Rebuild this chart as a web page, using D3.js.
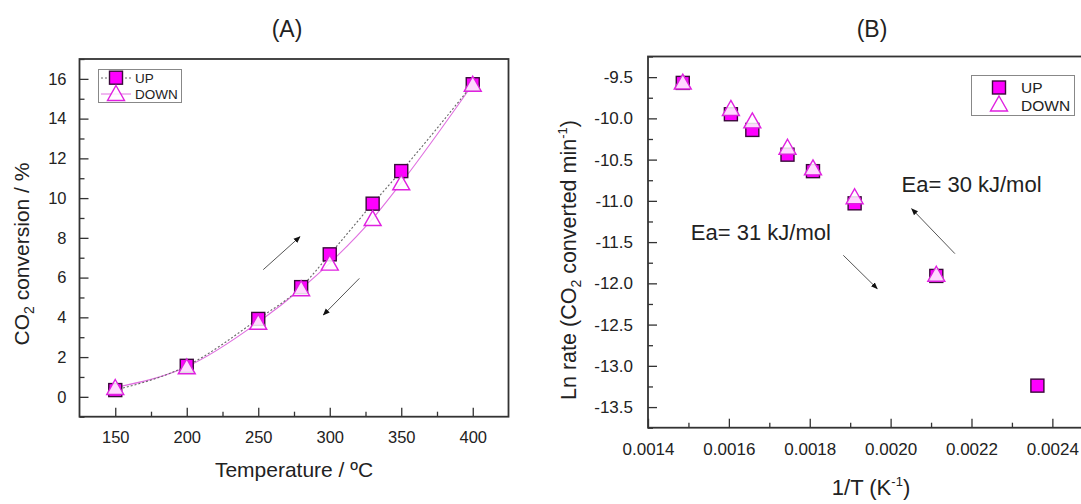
<!DOCTYPE html>
<html>
<head>
<meta charset="utf-8">
<script src="https://cdn.jsdelivr.net/npm/d3@7"></script>
<style>
  body { margin: 0; background: #fff; }
  svg text { font-family: "Liberation Sans", Arial, sans-serif; fill: #222; }
</style>
</head>
<body>
<div class="chart"></div>
<script>
// panel A : conversion vs temperature
var tempC = [150, 200, 250, 280, 300, 330, 350, 400];
var convUp = [0.34, 1.56, 3.92, 5.52, 7.17, 9.72, 11.36, 15.73];
var convDown = [0.47, 1.51, 3.75, 5.44, 6.73, 8.97, 10.77, 15.73];
var ticksA_x = [150, 200, 250, 300, 350, 400];
var ticksA_y = [0, 2, 4, 6, 8, 10, 12, 14, 16];

// panel B : arrhenius plot
var invT = [0.001486, 0.001605, 0.001658, 0.001745, 0.001808, 0.001911, 0.002113, 0.002363];
var lnUp = [-9.57, -9.95, -10.14, -10.44, -10.64, -11.03, -11.91, -13.24];
var lnDown = [-9.56, -9.88, -10.03, -10.35, -10.60, -10.95, -11.89, null];
var ticksB_x = [0.0014, 0.0016, 0.0018, 0.0020, 0.0022, 0.0024];
var ticksB_y = [-9.5, -10.0, -10.5, -11.0, -11.5, -12.0, -12.5, -13.0, -13.5];

// arrows + labels, in data units
var arrowsA = [[253.5, 6.4, 279.2, 8.06], [320.7, 5.96, 295.5, 4.12]];
var arrowsB = [[0.002159, -11.64, 0.002052, -11.095], [0.001883, -11.66, 0.001967, -12.065]];
var notesB = [["Ea= 30 kJ/mol", 0.002027, -10.894], ["Ea= 31 kJ/mol", 0.001506, -11.48]];

var width = 1081, height = 504;
var magenta = "#ff00ff", triColor = "#e020e0";

var svg = d3.select(".chart").append("svg")
    .attr("width", width)
    .attr("height", height);

svg.append("defs").append("marker")
    .attr("id", "head")
    .attr("viewBox", "0 0 10 10")
    .attr("refX", 9).attr("refY", 5)
    .attr("markerWidth", 7).attr("markerHeight", 7)
    .attr("markerUnits", "userSpaceOnUse")
    .attr("orient", "auto")
    .append("path")
    .attr("d", "M0,1L10,5L0,9z")
    .attr("fill", "#111");

function drawAxes(g, x, y, xt, xminor, yt, yminor, xfmt, yfmt, ypad, fs) {
    var x0 = x.range()[0], x1 = x.range()[1];
    var y0 = y.range()[0], y1 = y.range()[1];

    g.append("g").attr("transform", "translate(0," + y0 + ")")
        .call(d3.axisBottom(x).tickValues(xminor).tickSize(-5).tickFormat(""));
    g.append("g").attr("class", "xa").attr("transform", "translate(0," + y0 + ")")
        .call(d3.axisBottom(x).tickValues(xt).tickSize(-9).tickPadding(15).tickFormat(xfmt));
    g.append("g").attr("transform", "translate(" + x0 + ",0)")
        .call(d3.axisLeft(y).tickValues(yminor).tickSize(-5).tickFormat(""));
    g.append("g").attr("class", "ya").attr("transform", "translate(" + x0 + ",0)")
        .call(d3.axisLeft(y).tickValues(yt).tickSize(-9).tickPadding(ypad).tickFormat(yfmt));

    g.selectAll(".domain").remove();
    g.selectAll(".tick line").attr("stroke", "#333").attr("stroke-width", 1.3);
    g.selectAll(".tick text").style("font-size", fs).attr("fill", "#222");

    g.append("rect")
        .attr("x", x0).attr("y", y1)
        .attr("width", x1 - x0).attr("height", y0 - y1)
        .attr("fill", "none").attr("stroke", "#333").attr("stroke-width", 1.8);
}

function squares(g, pts) {
    g.selectAll(null).data(pts).enter().append("rect")
        .attr("x", function (d) { return d[0] - 6.5; })
        .attr("y", function (d) { return d[1] - 6.5; })
        .attr("width", 13).attr("height", 13)
        .attr("fill", magenta).attr("stroke", "#3a0a3a").attr("stroke-width", 1.4);
}

function triangles(g, pts) {
    g.selectAll(null).data(pts).enter().append("path")
        .attr("d", function (d) {
            return "M" + d[0] + "," + (d[1] - 8) + "L" + (d[0] + 8.5) + "," + (d[1] + 7) +
                "L" + (d[0] - 8.5) + "," + (d[1] + 7) + "Z";
        })
        .attr("fill", "#fff").attr("fill-opacity", 0.85)
        .attr("stroke", triColor).attr("stroke-width", 1.4);
}

function arrows(g, list, x, y) {
    g.selectAll(null).data(list).enter().append("line")
        .attr("x1", function (d) { return x(d[0]); })
        .attr("y1", function (d) { return y(d[1]); })
        .attr("x2", function (d) { return x(d[2]); })
        .attr("y2", function (d) { return y(d[3]); })
        .attr("stroke", "#555").attr("stroke-width", 1)
        .attr("marker-end", "url(#head)");
}

// ---------- (A) ----------
var xA = d3.scaleLinear().domain([125, 425]).range([79.5, 508.5]);
var yA = d3.scaleLinear().domain([-1, 17]).range([416.7, 59]);
var gA = svg.append("g");

drawAxes(gA, xA, yA, ticksA_x, [175, 225, 275, 325, 375],
    ticksA_y, [-1, 1, 3, 5, 7, 9, 11, 13, 15, 17],
    d3.format("d"), d3.format("d"), 13, "16.5px");

var lineA = d3.line()
    .x(function (d) { return xA(d[0]); })
    .y(function (d) { return yA(d[1]); })
    .curve(d3.curveMonotoneX);

var upA = tempC.map(function (t, i) { return [t, convUp[i]]; });
var downA = tempC.map(function (t, i) { return [t, convDown[i]]; });

gA.append("path").attr("d", lineA(downA))
    .attr("fill", "none").attr("stroke", "#e070e0").attr("stroke-width", 1.1);
gA.append("path").attr("d", lineA(upA))
    .attr("fill", "none").attr("stroke", "#666").attr("stroke-width", 1.1)
    .attr("stroke-dasharray", "2,2");

squares(gA, upA.map(function (d) { return [xA(d[0]), yA(d[1])]; }));
triangles(gA, downA.map(function (d) { return [xA(d[0]), yA(d[1])]; }));
arrows(gA, arrowsA, xA, yA);

// legend A
var legA = gA.append("g");
legA.append("rect").attr("x", 98.5).attr("y", 69.5).attr("width", 83).attr("height", 33)
    .attr("fill", "#fff").attr("stroke", "#888").attr("stroke-width", 1);
legA.append("line").attr("x1", 101).attr("x2", 131).attr("y1", 78).attr("y2", 78)
    .attr("stroke", "#666").attr("stroke-dasharray", "2,2");
legA.append("line").attr("x1", 101).attr("x2", 131).attr("y1", 94).attr("y2", 94)
    .attr("stroke", "#e070e0");
squares(legA, [[116, 77.7]]);
triangles(legA, [[116, 93.5]]);
legA.append("text").attr("x", 135).attr("y", 82.5).text("UP").style("font-size", "13.5px");
legA.append("text").attr("x", 135).attr("y", 99).text("DOWN").style("font-size", "13.5px");

svg.append("text").attr("x", 287).attr("y", 37).attr("text-anchor", "middle")
    .style("font-size", "23px").text("(A)");
svg.append("text").attr("x", 294).attr("y", 477).attr("text-anchor", "middle")
    .style("font-size", "21px").text("Temperature / ºC");
var ylabA = svg.append("text")
    .attr("transform", "translate(29,254) rotate(-90)")
    .attr("text-anchor", "middle").style("font-size", "21px");
ylabA.append("tspan").text("CO");
ylabA.append("tspan").attr("dy", 5).style("font-size", "14px").text("2");
ylabA.append("tspan").attr("dy", -5).text(" conversion / %");

// ---------- (B) ----------
var xB = d3.scaleLinear().domain([0.0014, 0.0025]).range([648, 1092.8]);
var yB = d3.scaleLinear().domain([-13.75, -9.25]).range([427.7, 56.5]);
var gB = svg.append("g");

drawAxes(gB, xB, yB, ticksB_x, [0.0015, 0.0017, 0.0019, 0.0021, 0.0023, 0.0025],
    ticksB_y, [-9.25, -9.75, -10.25, -10.75, -11.25, -11.75, -12.25, -12.75, -13.25, -13.75],
    d3.format(".4f"), d3.format(".1f"), 15, "17px");
// d3 uses a unicode minus, the figure uses plain hyphen
gB.selectAll(".ya .tick text").text(function (d) { return d3.format(".1f")(d).replace("\u2212", "-"); });

var upB = invT.map(function (v, i) { return [xB(v), yB(lnUp[i])]; });
var downB = invT.map(function (v, i) { return lnDown[i] == null ? null : [xB(v), yB(lnDown[i])]; })
    .filter(function (d) { return d; });
squares(gB, upB);
triangles(gB, downB);
arrows(gB, arrowsB, xB, yB);

gB.selectAll(null).data(notesB).enter().append("text")
    .attr("x", function (d) { return xB(d[1]); })
    .attr("y", function (d) { return yB(d[2]); })
    .style("font-size", "22px")
    .text(function (d) { return d[0]; });

// legend B
var legB = gB.append("g");
legB.append("rect").attr("x", 971.5).attr("y", 75.5).attr("width", 103).attr("height", 40)
    .attr("fill", "#fff").attr("stroke", "#888").attr("stroke-width", 1);
squares(legB, [[999, 87.5]]);
triangles(legB, [[999, 104]]);
legB.append("text").attr("x", 1021).attr("y", 93).text("UP").style("font-size", "15.5px");
legB.append("text").attr("x", 1021).attr("y", 110.5).text("DOWN").style("font-size", "15.5px");

svg.append("text").attr("x", 872).attr("y", 37).attr("text-anchor", "middle")
    .style("font-size", "23px").text("(B)");

var xlabB = svg.append("text").attr("x", 871).attr("y", 495)
    .attr("text-anchor", "middle").style("font-size", "22px");
xlabB.append("tspan").text("1/T (K");
xlabB.append("tspan").attr("dy", -9).style("font-size", "13px").text("-1");
xlabB.append("tspan").attr("dy", 9).text(")");

var ylabB = svg.append("text")
    .attr("transform", "translate(576,260) rotate(-90)")
    .attr("text-anchor", "middle").style("font-size", "21.5px");
ylabB.append("tspan").text("Ln rate (CO");
ylabB.append("tspan").attr("dy", 5).style("font-size", "14px").text("2");
ylabB.append("tspan").attr("dy", -5).text(" converted min");
ylabB.append("tspan").attr("dy", -9).style("font-size", "13px").text("-1");
ylabB.append("tspan").attr("dy", 9).text(")");
</script>
</body>
</html>
